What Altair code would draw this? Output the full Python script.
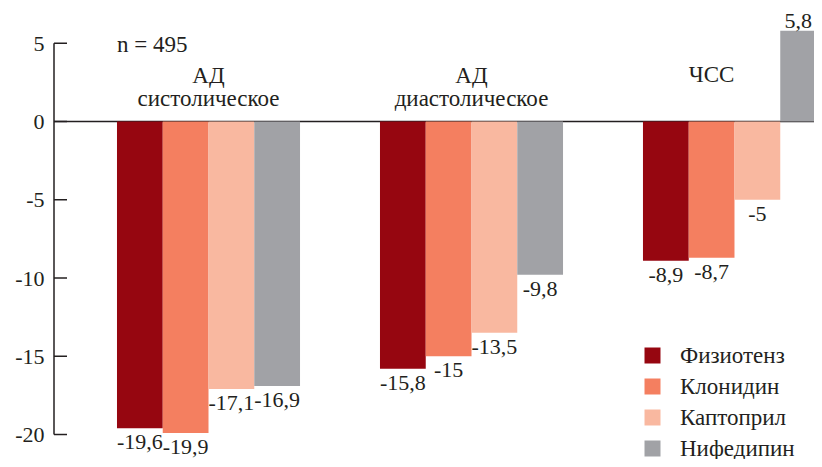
import altair as alt
import pandas as pd

# ---- data ----
groups = ["АД систолическое", "АД диастолическое", "ЧСС"]
drugs = ["Физиотенз", "Клонидин", "Каптоприл", "Нифедипин"]
physiotens = [-19.6, -15.8, -8.9]
clonidine = [-19.9, -15.0, -8.7]
captopril = [-17.1, -13.5, -5.0]
nifedipine = [-16.9, -9.8, 5.8]
y_ticks = [5, 0, -5, -10, -15, -20]
head_line1 = ["АД", "АД", "ЧСС"]
head_line2 = ["систолическое", "диастолическое", ""]
sample_note = "n = 495"

# ---- styling ----
colors = ["#960610", "#F47F60", "#F9B8A0", "#A1A2A6"]
FONT = "Liberation Serif"
TXT = "#231f20"
FS_NUM = 22
FS_TXT = 23
W, H = 760, 451

series = [physiotens, clonidine, captopril, nifedipine]
rows = []
for d, vals in zip(drugs, series):
    for g, v in zip(groups, vals):
        rows.append({"group": g, "drug": d, "value": v,
                     "label": f"{v:g}".replace(".", ",")})
df = pd.DataFrame(rows)

heads = pd.DataFrame({"group": groups, "line1": head_line1, "line2": head_line2,
                      "anchor": [drugs[1]] * 3})

x_enc = alt.X("group:N", sort=groups,
              scale=alt.Scale(range=[0, 835], paddingInner=0.304, paddingOuter=0.2395),
              axis=None)
xo_enc = alt.XOffset("drug:N", sort=drugs,
                     scale=alt.Scale(domain=drugs, paddingInner=0, paddingOuter=0))
y_enc = alt.Y("value:Q",
              scale=alt.Scale(domain=[-21.565, 7.252], nice=False, zero=False),
              axis=alt.Axis(values=y_ticks, ticks=False, domain=False, grid=False,
                            labelPadding=10, labelFontSize=FS_NUM, labelFont=FONT,
                            labelColor=TXT, labelExpr="datum.value + ''", title=None))

zero_line = alt.Chart(pd.DataFrame({"value": [0]})).mark_rule(
    color=TXT, strokeWidth=1.5).encode(y=alt.Y("value:Q"), x=alt.value(0), x2=alt.value(W))

axis_line = alt.Chart(pd.DataFrame({"value": [max(y_ticks)], "value2": [min(y_ticks)]})).mark_rule(
    color=TXT, strokeWidth=1.5).encode(y=alt.Y("value:Q"), y2="value2:Q", x=alt.value(0))

tick_marks = alt.Chart(pd.DataFrame({"value": y_ticks})).mark_rule(
    color=TXT, strokeWidth=1.5).encode(y=alt.Y("value:Q"), x=alt.value(0), x2=alt.value(13))

bars = alt.Chart(df).mark_bar(strokeWidth=0).encode(
    x=x_enc, xOffset=xo_enc, y=y_enc,
    color=alt.Color("drug:N", sort=drugs,
                    scale=alt.Scale(domain=drugs, range=colors),
                    legend=alt.Legend(title=None, orient="none", legendX=587, legendY=336,
                                      symbolType="square", symbolSize=256,
                                      symbolStrokeWidth=0, labelFontSize=FS_TXT,
                                      labelFont=FONT, labelColor=TXT, labelOffset=16,
                                      rowPadding=7, padding=0)))

def txt(fs, **kw):
    d = dict(font=FONT, fontSize=fs, color=TXT, align="center", baseline="alphabetic")
    d.update(kw)
    return d

neg_labels = alt.Chart(df).transform_filter("datum.value < 0").mark_text(
    **txt(FS_NUM, dy=21)).encode(x=x_enc, xOffset=xo_enc, y=alt.Y("value:Q"), text="label:N")
pos_labels = alt.Chart(df).transform_filter("datum.value >= 0").mark_text(
    **txt(FS_NUM, dy=-3, dx=-5)).encode(x=x_enc, xOffset=xo_enc, y=alt.Y("value:Q"), text="label:N")

head_ad = alt.Chart(heads).transform_filter(f"datum.group != '{groups[2]}'").mark_text(
    **txt(FS_TXT)).encode(x=x_enc, y=alt.value(75), text="line1:N")
head_hr = alt.Chart(heads).transform_filter(f"datum.group == '{groups[2]}'").mark_text(
    **txt(FS_TXT)).encode(x=x_enc, xOffset=alt.XOffset("anchor:N"), y=alt.value(74), text="line1:N")
head_2 = alt.Chart(heads).mark_text(**txt(FS_TXT)).encode(
    x=x_enc, y=alt.value(98), text="line2:N")

note = alt.Chart(pd.DataFrame({"group": [groups[0]], "t": [sample_note]})).mark_text(
    **txt(FS_TXT, align="left")).encode(
    x=alt.X("group:N", sort=groups, bandPosition=0), y=alt.value(43.5), text="t:N")

chart = alt.layer(
    zero_line, axis_line, tick_marks, bars, neg_labels, pos_labels,
    head_ad, head_hr, head_2, note
).properties(
    width=W, height=H,
    autosize=alt.AutoSizeParams(type="none"),
    padding={"left": 46, "top": 0, "right": 0, "bottom": 0},
).configure_view(stroke=None)

chart.save("out.html", embed_options={"renderer": "svg", "actions": False})
